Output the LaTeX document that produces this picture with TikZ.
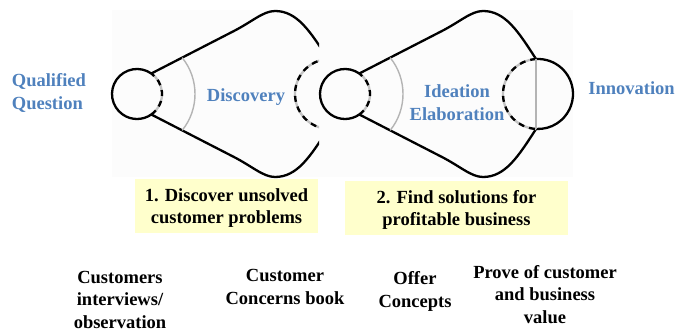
\documentclass[tikz,border=0pt]{standalone}
\usepackage{fontspec}
\setmainfont{Liberation Serif}
\definecolor{qblue}{HTML}{4F81BD}
\definecolor{boxyellow}{HTML}{FFFFCC}
\definecolor{arcgray}{HTML}{B4B4B4}
\definecolor{bggray}{HTML}{FCFCFC}
\newcommand\drawfunnel{%
  % small circle
  \draw[outline] (345,238) ++(55:25) arc[start angle=55, end angle=305, radius=25];
  \draw[dashbase] (345,238) ++(-55:25) arc[start angle=-55, end angle=55, radius=25];
  \draw[dashpart] (345,238) ++(-55:25) arc[start angle=-55, end angle=55, radius=25];
  % funnel outline
  \draw[outline] (359.3,258.5) -- (440,300) .. controls (460,310) and (471,321) .. (483,321)
        .. controls (505,321) and (518,301) .. (536,273);
  \draw[outline] (359.3,217.5) -- (440,176) .. controls (460,166) and (471,155) .. (483,155)
        .. controls (505,155) and (518,175) .. (536,203);
  % thin gray arc
  \draw[thinarc] (345,238) ++(-38.8:58) arc[start angle=-38.8, end angle=38.8, radius=58];
  % big circle
  \draw[outline] (538,238) ++(93:35) arc[start angle=93, end angle=-93, radius=35];
  \draw[dashbase] (538,238) ++(93:35) arc[start angle=93, end angle=267, radius=35];
  \draw[dashpart] (538,238) ++(93:35) arc[start angle=93, end angle=267, radius=35];
  \draw[thinarc] (536,273) -- (536,203);
}
\begin{document}
\begin{tikzpicture}[x=1pt,y=1pt,
  outline/.style={line width=2.3pt, black},
  dashbase/.style={line width=2.3pt, arcgray!80},
  dashpart/.style={line width=2.3pt, black, dash pattern=on 6pt off 5pt},
  thinarc/.style={line width=1.4pt, arcgray},
  bluetext/.style={text=qblue, font={\fontsize{18.5pt}{23pt}\selectfont\bfseries}, inner sep=0pt, text depth=0pt},
  blacktext/.style={font={\fontsize{18.5pt}{22.5pt}\selectfont\bfseries}, inner sep=0pt, align=center, text depth=0pt},
  stepbox/.style={fill=boxyellow, inner sep=0pt, align=center, minimum height=54pt, text depth=0pt,
     font={\fontsize{18.5pt}{21.5pt}\selectfont\bfseries}}
]
\useasboundingbox (0,0) rectangle (676,332);
\fill[bggray] (112,155) rectangle (573,322);
\begin{scope}
  \clip (100,0) rectangle (319,332);
  \begin{scope}[xshift=-208pt]
    \drawfunnel
  \end{scope}
\end{scope}
\drawfunnel
% labels
\node[bluetext, anchor=west, align=left] (qq) at (11.7,240.25) {Qualified\\Question};
\node[bluetext, anchor=base] (disc) at (246,230) {Discovery};
\node[bluetext, align=center] (idea) at (457,229.15) {Ideation\\Elaboration};
\node[bluetext, anchor=base] (inno) at (631.5,237) {Innovation};
% boxes
\node[stepbox, minimum width=183pt] (box1) at (226.5,126) {1. Discover unsolved\\customer problems};
\node[stepbox, minimum width=223pt] (box2) at (456.5,124) {2. Find solutions for\\profitable business};
% bottom texts
\node[blacktext] (t1) at (120,32.45) {Customers\\interviews/\\observation};
\node[blacktext] (t2) at (285,45.25) {Customer\\Concerns book};
\node[blacktext] (t3) at (415,42.75) {Offer\\Concepts};
\node[blacktext] (t4) at (545,37.75) {Prove of customer\\and business\\value};
\end{tikzpicture}
\end{document}
